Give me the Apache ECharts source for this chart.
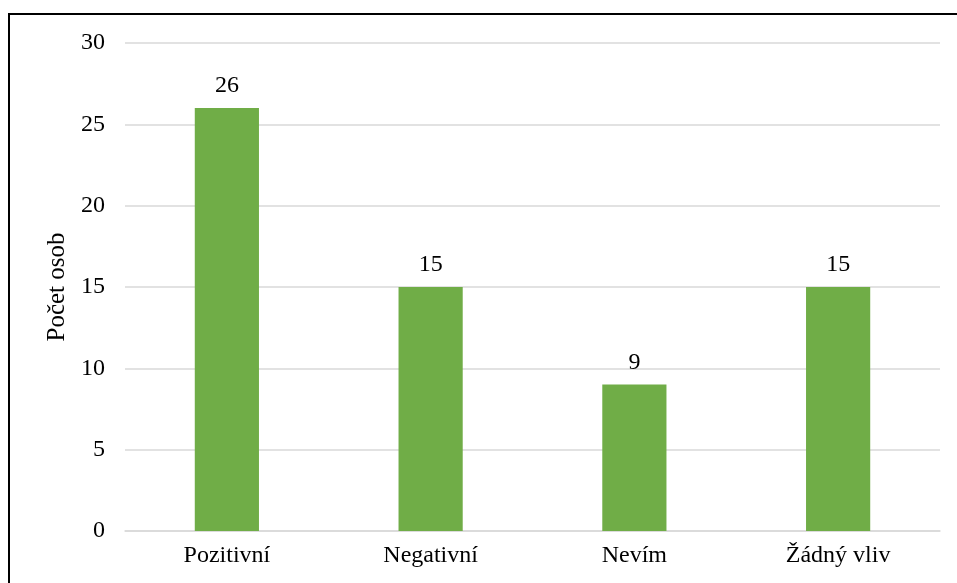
<!DOCTYPE html>
<html><head><meta charset="utf-8">
<script src="https://cdn.jsdelivr.net/npm/echarts@6/dist/echarts.min.js"></script>
<style>
html,body{margin:0;padding:0;background:#fff;overflow:hidden;}
#frame{position:absolute;left:8px;top:13px;width:1200px;height:1200px;border-left:2px solid #000;border-top:2px solid #000;}
#c{position:absolute;left:0;top:0;width:957px;height:583px;}
</style></head>
<body>
<div id="frame"></div>
<div id="c"></div>
<script>
const categories = ['Pozitivní', 'Negativní', 'Nevím', 'Žádný vliv'];
const values = [26, 15, 9, 15];
const yTicks = [0, 5, 10, 15, 20, 25, 30];

const font = '"Liberation Serif", "Times New Roman", serif';
const chart = echarts.init(document.getElementById('c'), null, {renderer: 'canvas'});
chart.setOption({
  animation: false,
  backgroundColor: 'transparent',
  grid: {left: 125, right: 17, top: 43, bottom: 52, containLabel: false},
  xAxis: {
    type: 'category', data: categories,
    axisLine: {lineStyle: {color: '#D9D9D9', width: 1.5}},
    axisTick: {show: false},
    axisLabel: {color: '#000', fontFamily: font, fontSize: 24, margin: 13}
  },
  yAxis: {
    type: 'value', min: yTicks[0], max: yTicks[yTicks.length - 1], interval: 5,
    name: 'Počet osob', nameLocation: 'middle', nameGap: 53,
    nameTextStyle: {color: '#000', fontFamily: font, fontSize: 25},
    axisLine: {show: false}, axisTick: {show: false},
    axisLabel: {color: '#000', fontFamily: font, fontSize: 24, margin: 20},
    splitLine: {lineStyle: {color: '#D9D9D9', width: 1.5}}
  },
  series: [{
    type: 'bar', data: values, barWidth: '31.5%',
    itemStyle: {color: '#70AD47'},
    label: {show: true, position: 'top', distance: 10, color: '#000', fontFamily: font, fontSize: 24}
  }]
});
</script>
</body></html>
